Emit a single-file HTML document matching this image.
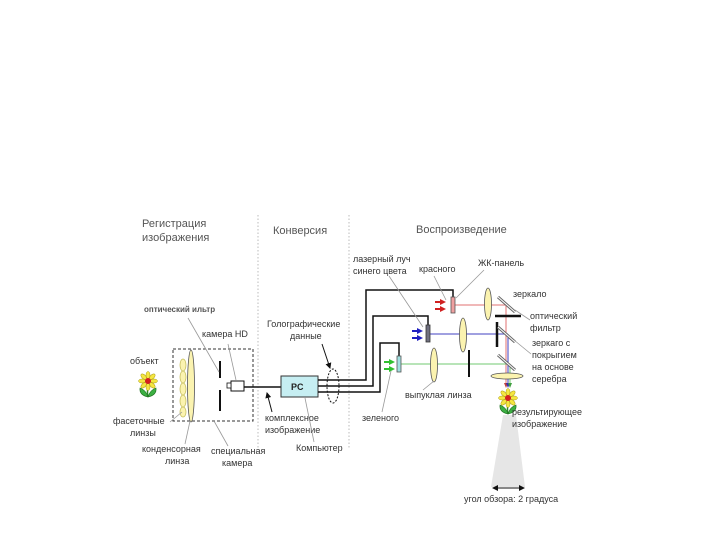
<!DOCTYPE html>
<html><head><meta charset="utf-8"><style>
html,body{margin:0;padding:0;background:#fff;}
svg{display:block;}
text{font-family:"Liberation Sans",sans-serif;font-size:9px;fill:#333;}
</style></head><body>
<svg width="720" height="540" viewBox="0 0 720 540" xmlns="http://www.w3.org/2000/svg">
<defs>
<g id="flower">
<path d="M0,4 Q-1,12 0,16" stroke="#2a8a2a" stroke-width="1.5" fill="none"/>
<path d="M0,16 Q-9,14 -8,7 Q-2,9 0,16Z" fill="#3cb043" stroke="#1e6e1e" stroke-width="0.6"/>
<path d="M0,16 Q9,14 8,7 Q2,9 0,16Z" fill="#3cb043" stroke="#1e6e1e" stroke-width="0.6"/>
<g fill="#f5e642" stroke="#a89a10" stroke-width="0.5">
<ellipse cx="0" cy="-6" rx="2" ry="3.5"/><ellipse cx="0" cy="6" rx="2" ry="3.5"/>
<ellipse cx="-6" cy="0" rx="3.5" ry="2"/><ellipse cx="6" cy="0" rx="3.5" ry="2"/>
<ellipse cx="-4.3" cy="-4.3" rx="2" ry="3.5" transform="rotate(-45 -4.3 -4.3)"/>
<ellipse cx="4.3" cy="4.3" rx="2" ry="3.5" transform="rotate(-45 4.3 4.3)"/>
<ellipse cx="4.3" cy="-4.3" rx="2" ry="3.5" transform="rotate(45 4.3 -4.3)"/>
<ellipse cx="-4.3" cy="4.3" rx="2" ry="3.5" transform="rotate(45 -4.3 4.3)"/>
</g>
<circle r="3" fill="#d42020"/>
</g>
<marker id="ah" markerWidth="6" markerHeight="6" refX="5" refY="3" orient="auto"><path d="M0,0L6,3L0,6Z" fill="#111"/></marker>
</defs>

<!-- dividers -->
<line x1="258" y1="215" x2="258" y2="448" stroke="#bbb" stroke-dasharray="1.5,2"/>
<line x1="349" y1="215" x2="349" y2="448" stroke="#bbb" stroke-dasharray="1.5,2"/>

<text x="142" y="227" font-size="11" style="font-size:11px;fill:#555">Регистрация</text>
<text x="142" y="241" style="font-size:11px;fill:#555">изображения</text>
<text x="273" y="234" style="font-size:11px;fill:#555">Конверсия</text>
<text x="416" y="233" style="font-size:11px;fill:#555">Воспроизведение</text>

<!-- registration -->
<text x="130" y="364">объект</text>
<use href="#flower" x="148" y="381"/>
<rect x="173" y="349" width="80" height="72" fill="none" stroke="#333" stroke-dasharray="3,2"/>
<g fill="#fbf3b0" stroke="#c8c060" stroke-width="0.8">
<ellipse cx="183" cy="365" rx="3" ry="6"/><ellipse cx="183" cy="377" rx="3" ry="6"/>
<ellipse cx="183" cy="389" rx="3" ry="6"/><ellipse cx="183" cy="401" rx="3" ry="6"/>
<ellipse cx="183" cy="412" rx="3" ry="5"/>
</g>
<ellipse cx="191" cy="386" rx="3.5" ry="36" fill="#fbf3b0" stroke="#555" stroke-width="0.8"/>
<line x1="220" y1="361" x2="220" y2="378" stroke="#111" stroke-width="2"/>
<line x1="220" y1="390" x2="220" y2="411" stroke="#111" stroke-width="2"/>
<rect x="231" y="381" width="13" height="10" fill="#fff" stroke="#111"/>
<rect x="227" y="383" width="4" height="5" fill="#fff" stroke="#111" stroke-width="0.8"/>
<line x1="244" y1="387" x2="281" y2="387" stroke="#111" stroke-width="1.5"/>
<text x="144" y="312" style="font-size:8px;font-weight:bold;fill:#555">оптический ильтр</text>
<line x1="188" y1="318" x2="219" y2="372" stroke="#999" stroke-width="0.8"/>
<text x="202" y="337">камера HD</text>
<line x1="228" y1="344" x2="236" y2="380" stroke="#999" stroke-width="0.8"/>
<text x="113" y="424">фасеточные</text>
<text x="130" y="436">линзы</text>
<line x1="170" y1="422" x2="182" y2="412" stroke="#999" stroke-width="0.8"/>
<text x="142" y="452">конденсорная</text>
<text x="165" y="464">линза</text>
<line x1="185" y1="444" x2="190" y2="421" stroke="#999" stroke-width="0.8"/>
<text x="211" y="454">специальная</text>
<text x="222" y="466">камера</text>
<line x1="228" y1="446" x2="214" y2="421" stroke="#999" stroke-width="0.8"/>

<!-- conversion -->
<rect x="281" y="376" width="37" height="21" fill="#c6eef2" stroke="#333"/>
<text x="291" y="390" style="font-size:9px;font-weight:bold;fill:#222">PC</text>
<text x="267" y="327">Голографические</text>
<text x="290" y="339">данные</text>
<line x1="322" y1="344" x2="330" y2="368" stroke="#111" marker-end="url(#ah)"/>
<ellipse cx="333" cy="386" rx="6" ry="17" fill="none" stroke="#111" stroke-dasharray="2,1.5"/>
<text x="265" y="421">комплексное</text>
<text x="265" y="433">изображение</text>
<line x1="272" y1="412" x2="267" y2="393" stroke="#111" marker-end="url(#ah)"/>
<text x="296" y="451">Компьютер</text>
<line x1="314" y1="442" x2="305" y2="398" stroke="#999" stroke-width="0.8"/>

<!-- cables -->
<g fill="none" stroke="#111" stroke-width="1.5">
<path d="M318,380 H366 V290 H453 V298"/>
<path d="M318,386 H373 V316 H428 V326"/>
<path d="M318,392 H380 V343 H399 V356"/>
</g>

<!-- beams -->
<line x1="455" y1="305" x2="506" y2="305" stroke="#e07070"/>
<line x1="506" y1="305" x2="506" y2="384" stroke="#e07070"/>
<line x1="430" y1="334" x2="508" y2="334" stroke="#4040c0"/>
<line x1="508" y1="334" x2="508" y2="384" stroke="#4040c0"/>
<line x1="401" y1="364" x2="510" y2="364" stroke="#70c870"/>
<line x1="510" y1="364" x2="510" y2="384" stroke="#70c870"/>
<path d="M504,383 L508,383 L506,388Z" fill="#c04040"/>
<path d="M506,383 L510,383 L508,388Z" fill="#3030b0"/>
<path d="M508,383 L512,383 L510,388Z" fill="#40a040"/>

<!-- LCD panels -->
<rect x="451" y="297" width="4" height="16" fill="#f0a0a0" stroke="#555" stroke-width="0.8"/>
<rect x="426" y="325" width="4" height="17" fill="#707080" stroke="#333" stroke-width="0.8"/>
<rect x="397" y="356" width="4" height="16" fill="#a0e0e0" stroke="#555" stroke-width="0.8"/>
<g fill="#d02020"><path d="M440,299 L446,302 L440,305Z"/><path d="M440,306 L446,309 L440,312Z"/>
<rect x="435" y="301" width="5" height="2"/><rect x="435" y="308" width="5" height="2"/></g>
<g fill="#2020c0"><path d="M417,328 L423,331 L417,334Z"/><path d="M417,335 L423,338 L417,341Z"/>
<rect x="412" y="330" width="5" height="2"/><rect x="412" y="337" width="5" height="2"/></g>
<g fill="#30c030"><path d="M389,359 L395,362 L389,365Z"/><path d="M389,366 L395,369 L389,372Z"/>
<rect x="384" y="361" width="5" height="2"/><rect x="384" y="368" width="5" height="2"/></g>

<!-- lenses -->
<g fill="#fbf3b0" stroke="#555" stroke-width="0.8">
<ellipse cx="488" cy="304" rx="3.5" ry="16"/>
<ellipse cx="463" cy="335" rx="3.5" ry="17"/>
<ellipse cx="434" cy="365" rx="3.5" ry="17"/>
<ellipse cx="507" cy="376" rx="16" ry="3"/>
</g>
<line x1="495" y1="316" x2="521" y2="316" stroke="#111" stroke-width="2.5"/>
<line x1="497" y1="322" x2="497" y2="347" stroke="#111" stroke-width="2.5"/>
<line x1="469" y1="350" x2="469" y2="377" stroke="#111" stroke-width="2"/>
<g stroke="#666" stroke-width="3"><line x1="498" y1="297" x2="515" y2="312"/>
<line x1="498" y1="327" x2="515" y2="342"/><line x1="498" y1="355" x2="515" y2="370"/></g>
<g stroke="#fff" stroke-width="1"><line x1="498" y1="297" x2="515" y2="312"/>
<line x1="498" y1="327" x2="515" y2="342"/><line x1="498" y1="355" x2="515" y2="370"/></g>

<!-- cone -->
<path d="M503,415 L516,415 L525,487 L491,487Z" fill="#e6e6e6"/>
<line x1="493" y1="488" x2="524" y2="488" stroke="#111" marker-end="url(#ah)"/>
<line x1="524" y1="488" x2="493" y2="488" stroke="#111" marker-end="url(#ah)"/>
<use href="#flower" x="508" y="398"/>

<!-- labels reproduction -->
<text x="353" y="262">лазерный луч</text>
<text x="353" y="274">синего цвета</text>
<line x1="389" y1="276" x2="423" y2="327" stroke="#999" stroke-width="0.8"/>
<text x="419" y="272">красного</text>
<line x1="434" y1="276" x2="446" y2="300" stroke="#999" stroke-width="0.8"/>
<text x="478" y="266">ЖК-панель</text>
<line x1="484" y1="270" x2="456" y2="298" stroke="#999" stroke-width="0.8"/>
<text x="513" y="297">зеркало</text>
<text x="530" y="319">оптический</text>
<text x="530" y="331">фильтр</text>
<line x1="515" y1="310" x2="530" y2="320" stroke="#999" stroke-width="0.8"/>
<text x="532" y="346">зеркаго с</text>
<text x="532" y="358">покрыгием</text>
<text x="532" y="370">на основе</text>
<text x="532" y="382">серебра</text>
<line x1="514" y1="340" x2="531" y2="354" stroke="#999" stroke-width="0.8"/>
<text x="405" y="398">выпуклая линза</text>
<line x1="423" y1="390" x2="434" y2="381" stroke="#999" stroke-width="0.8"/>
<text x="362" y="421">зеленого</text>
<line x1="382" y1="412" x2="391" y2="371" stroke="#999" stroke-width="0.8"/>
<text x="512" y="415">результирующее</text>
<text x="512" y="427">изображение</text>
<text x="464" y="502">угол обзора: 2 градуса</text>
</svg>
</body></html>
